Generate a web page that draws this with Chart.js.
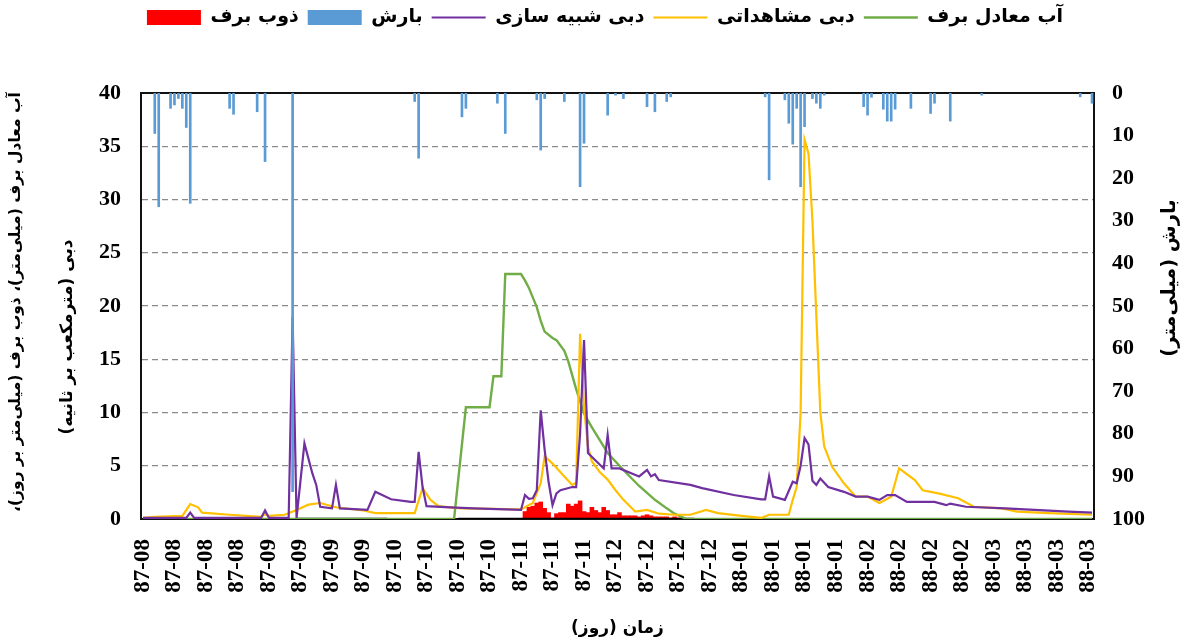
<!DOCTYPE html>
<html><head><meta charset="utf-8">
<script src="https://cdn.jsdelivr.net/npm/chart.js@4"></script>
<style>html,body{margin:0;padding:0;background:#fff}canvas{display:block}</style>
</head><body>
<canvas id="c" width="1186" height="643"></canvas>
<script>
// ---- data (day index from 87-08-01) ----
const tickDays = [0,8,16,24,32,40,48,56,64,72,80,88,96,104,112,120,128,136,144,152,160,168,176,184,192,200,208,216,224,232,240];
const tickLabels = ['87-08','87-08','87-08','87-08','87-09','87-09','87-09','87-09','87-10','87-10','87-10','87-10','87-11','87-11','87-11','87-12','87-12','87-12','87-12','88-01','88-01','88-01','88-01','88-02','88-02','88-02','88-02','88-03','88-03','88-03','88-03'];

const nameSWE = 'آب معادل برف';
const nameObs = 'دبی مشاهداتی';
const nameSim = 'دبی شبیه سازی';
const namePrecip = 'بارش';
const nameMelt = 'ذوب برف';

const leftTitleLines = ['آب معادل برف (میلی‌متر)، ذوب برف (میلی‌متر بر روز)،', 'دبی (مترمکعب بر ثانیه)'];
const rightTitle = 'بارش (میلی‌متر)';
const xTitle = 'زمان (روز)';

const sweData = [[0,0],[79,0],[82,10.5],[88,10.5],[89,13.4],[91,13.4],[92,23],[96,23],[97,22.4],[98,21.7],[100,19.9],[101,18.6],[102,17.6],[104,17.0],[105,16.8],[107,15.8],[108,14.8],[110,12.2],[112,9.9],[114,8.6],[116,7.4],[118,6.2],[122,4.6],[126,3.1],[130,1.8],[133,1.0],[135,0.5],[138,0],[241,0]];

const observedData = [[0,0.1],[3,0.2],[10,0.3],[12,1.4],[14,1.1],[15,0.6],[22,0.4],[30,0.2],[31,0.45],[32,0.3],[36,0.4],[39,0.85],[42,1.35],[45,1.5],[49,1.1],[56,0.8],[59,0.55],[69,0.55],[71,2.9],[73,1.8],[75,1.2],[78,1.1],[81,1.0],[96,0.9],[99,1.5],[101,3.35],[102,5.9],[104,5.2],[107,4.0],[109,3.2],[110,3.4],[111,17.4],[112,10.5],[113,6.8],[114,5.4],[116,4.4],[118,3.7],[120,2.7],[122,1.8],[125,0.7],[128,0.85],[131,0.5],[135,0.4],[139,0.4],[143,0.85],[146,0.55],[152,0.3],[157,0.1],[159,0.4],[164,0.4],[165,1.8],[166,3.0],[167,10],[168,35.6],[169,34.3],[170,28],[171,19],[172,10],[173,6.8],[175,4.9],[178,3.35],[181,2.1],[184,2.1],[187,1.5],[190,2.1],[191,3.4],[192,4.75],[196,3.66],[198,2.7],[202,2.4],[207,1.95],[211,1.15],[218,1.0],[222,0.7],[230,0.55],[241,0.4]];

const simulatedData = [[0,0.1],[11,0.1],[12,0.6],[13,0.1],[30,0.1],[31,0.8],[32,0.1],[37,0.1],[38,19.0],[39,0.1],[41,7.1],[43,4.3],[44,3.2],[45,1.15],[48,1.0],[49,3.2],[50,1.0],[57,0.85],[59,2.55],[63,1.85],[68,1.6],[69,1.6],[70,6.3],[71,3.0],[72,1.2],[78,1.1],[84,1.0],[96,0.85],[97,2.25],[98,1.9],[99,1.95],[100,2.7],[101,10.2],[102,6.5],[103,3.5],[104,1.3],[105,2.4],[106,2.7],[109,3.0],[110,3.0],[111,8],[112,16.8],[113,6.2],[117,4.75],[118,7.9],[119,4.75],[121,4.75],[126,4.0],[128,4.6],[129,4.0],[130,4.2],[131,3.66],[139,3.2],[142,2.9],[150,2.25],[157,1.85],[158,1.85],[159,4.0],[160,2.1],[163,1.8],[165,3.5],[166,3.35],[167,5],[168,7.6],[169,7.0],[170,3.6],[171,3.2],[172,3.8],[174,3.0],[178,2.55],[181,2.1],[184,2.1],[187,1.8],[189,2.25],[191,2.25],[194,1.6],[201,1.6],[204,1.3],[205,1.45],[209,1.15],[219,1.0],[235,0.7],[241,0.6]];

const precipData = [[3,9.5],[4,26.7],[7,3.6],[8,2.8],[9,1.3],[10,3.6],[11,8.1],[12,25.9],[22,3.6],[23,5.0],[29,4.4],[31,16.1],[38,93.6],[69,2.0],[70,15.3],[81,5.6],[82,3.6],[90,2.4],[92,9.5],[100,1.6],[101,13.4],[102,1.3],[107,2.0],[111,22.0],[112,11.8],[118,5.2],[120,0.5],[122,1.3],[128,3.2],[130,4.4],[133,2.0],[134,0.9],[158,0.9],[159,20.4],[163,1.6],[164,7.1],[165,12.0],[166,3.6],[167,22.0],[168,7.9],[170,1.3],[171,2.4],[172,3.6],[173,0.5],[183,3.2],[184,5.2],[185,1.0],[188,3.8],[189,6.6],[190,6.6],[191,3.8],[195,3.6],[200,4.8],[201,2.4],[205,6.6],[213,0.5],[238,0.9],[241,2.4]];

const meltData = [[97,0.7],[98,1.1],[99,1.2],[100,1.5],[101,1.6],[102,1.0],[103,0.6],[104,0.1],[105,0.5],[106,0.6],[107,0.6],[108,1.4],[109,1.2],[110,1.4],[111,1.7],[112,0.7],[113,0.6],[114,1.1],[115,0.8],[116,0.6],[117,1.1],[118,0.8],[119,0.4],[120,0.4],[121,0.6],[122,0.3],[123,0.3],[124,0.3],[125,0.3],[126,0.2],[127,0.3],[128,0.4],[129,0.3],[130,0.2],[131,0.2],[132,0.2],[133,0.2],[134,0.1],[135,0.2],[136,0.1]];

const baseSegments = [[39,0],[62,0],[63,null],[80,0],[140,0]];

const toXY = (arr) => arr.map(([x, y]) => ({x, y}));

const framePlugin = {
  id: 'frame',
  beforeDatasetsDraw(chart) {
    const {left, top, right, bottom} = chart.chartArea;
    const ctx = chart.ctx;
    ctx.save();
    ctx.strokeStyle = '#111';
    ctx.lineWidth = 2;
    ctx.strokeRect(left, top, right - left, bottom - top);
    ctx.restore();
  }
};

const sideTitles = {
  id: 'sideTitles',
  afterDraw(chart) {
    const ctx = chart.ctx;
    ctx.save();
    ctx.fillStyle = '#000';
    ctx.textAlign = 'center';
    ctx.textBaseline = 'middle';
    ctx.direction = 'rtl';
    const rot = (t, x, y) => { ctx.save(); ctx.translate(x, y); ctx.rotate(-Math.PI / 2); ctx.fillText(t, 0, 0); ctx.restore(); };
    ctx.font = 'bold 15.5px "DejaVu Sans"';
    rot(leftTitleLines[0], 16, 302);
    ctx.font = 'bold 17px "DejaVu Sans"';
    rot(leftTitleLines[1], 68, 337);
    ctx.font = 'bold 19.5px "DejaVu Sans"';
    rot(rightTitle, 1170, 278);
    ctx.restore();
  }
};

const legendTweak = {
  id: 'legendTweak',
  beforeInit(chart) {
    const lg = chart.legend;
    const origFit = lg.fit;
    lg.fit = function () { origFit.call(this); this.height = 94; };
    const origDraw = lg.draw;
    lg.draw = function () { const c = this.ctx; c.save(); c.translate(12, 0); origDraw.call(this); c.restore(); };
  }
};

new Chart(document.getElementById('c'), {
  data: {
    datasets: [
      { type: 'bar', label: nameMelt, data: toXY(meltData), xAxisID: 'x', yAxisID: 'y', backgroundColor: '#ff0000', borderWidth: 0, barPercentage: 1, categoryPercentage: 1, grouped: false, pointStyle: 'rect', order: 6 },
      { type: 'bar', label: namePrecip, data: toXY(precipData), xAxisID: 'x', yAxisID: 'y2', backgroundColor: '#5b9bd5', borderWidth: 0, barThickness: 2, grouped: false, pointStyle: 'rect', order: 0 },
      { type: 'line', label: nameSim, data: toXY(simulatedData), yAxisID: 'y', borderColor: '#7030a0', backgroundColor: '#7030a0', borderWidth: 2.2, pointRadius: 0, tension: 0, pointStyle: 'line', order: 1 },
      { type: 'line', label: nameObs, data: toXY(observedData), yAxisID: 'y', borderColor: '#ffc000', backgroundColor: '#ffc000', borderWidth: 2.2, pointRadius: 0, tension: 0, pointStyle: 'line', order: 2 },
      { type: 'line', label: nameSWE, data: toXY(sweData), yAxisID: 'y', borderColor: '#70ad47', backgroundColor: '#70ad47', borderWidth: 2.4, pointRadius: 0, tension: 0, pointStyle: 'line', order: 3 },
      { type: 'line', label: '', data: toXY(baseSegments), yAxisID: 'y', borderColor: '#000', borderWidth: 2.4, pointRadius: 0, spanGaps: false, order: 4 }
    ]
  },
  options: {
    responsive: false,
    animation: false,
    layout: { padding: { top: -1, left: 0, right: 0, bottom: 0 } },
    plugins: {
      tooltip: { enabled: false },
      legend: {
        position: 'top',
        labels: {
          usePointStyle: true,
          pointStyleWidth: 54,
          boxHeight: 15,
          padding: 9,
          color: '#000',
          font: { family: '"DejaVu Sans"', size: 19, weight: 'bold' },
          filter: (item) => item.text !== '',
          sort: (a, b) => a.datasetIndex - b.datasetIndex
        }
      }
    },
    scales: {
      x: {
        type: 'linear',
        position: 'bottom',
        offset: false,
        min: -0.5,
        max: 241.5,
        afterBuildTicks: (scale) => { scale.ticks = tickDays.map((v) => ({ value: v })); },
        afterFit: (scale) => { scale.height = 124; },
        grid: { display: false, offset: false },
        border: { display: true, color: '#111', width: 2 },
        ticks: {
          autoSkip: false, maxRotation: 90, minRotation: 90, padding: 12, color: '#000',
          font: { family: '"Liberation Serif"', size: 23, weight: 'bold' },
          callback: (v, i) => tickLabels[i]
        },
        title: { display: true, text: xTitle, color: '#000', padding: { top: 0, bottom: 4 }, font: { family: '"DejaVu Sans"', size: 17, weight: 'bold' } }
      },
      y: {
        position: 'left',
        min: 0, max: 40,
        afterFit: (scale) => { scale.width = 141; },
        ticks: { stepSize: 5, padding: 20, color: '#000', font: { family: '"Liberation Serif"', size: 22, weight: 'bold' } },
        grid: { color: '#8c8c8c', lineWidth: 1.3, drawTicks: false },
        border: { display: true, color: '#111', width: 2, dash: [6, 4] }
      },
      y2: {
        position: 'right',
        min: 0, max: 100,
        reverse: true,
        afterFit: (scale) => { scale.width = 92; },
        ticks: { stepSize: 10, padding: 18, color: '#000', font: { family: '"Liberation Serif"', size: 22, weight: 'bold' } },
        grid: { display: false, drawTicks: false },
        border: { display: true, color: '#111', width: 2 }
      }
    }
  },
  plugins: [framePlugin, sideTitles, legendTweak]
});
</script>
</body></html>
